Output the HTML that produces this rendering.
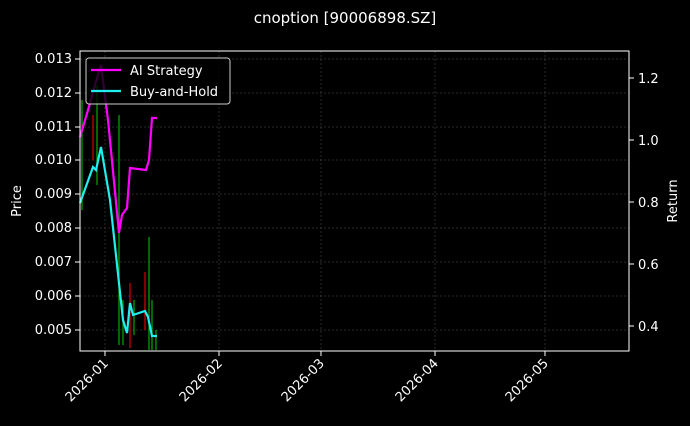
<!DOCTYPE html>
<html><head><style>
body{margin:0;background:#000;}
text{font-family:"DejaVu Sans","Liberation Sans",sans-serif;fill:#fff;}
</style></head><body>
<svg width="690" height="421" xmlns="http://www.w3.org/2000/svg">
<rect width="690" height="421" fill="#000"/>
<text x="345" y="23" font-size="15" text-anchor="middle">cnoption [90006898.SZ]</text>
<g stroke="#555" stroke-width="0.5" stroke-dasharray="2,2">
<line x1="105" y1="51" x2="105" y2="351"/><line x1="219" y1="51" x2="219" y2="351"/><line x1="321" y1="51" x2="321" y2="351"/><line x1="435" y1="51" x2="435" y2="351"/><line x1="545" y1="51" x2="545" y2="351"/>
<line x1="80" y1="59" x2="629" y2="59"/><line x1="80" y1="93" x2="629" y2="93"/><line x1="80" y1="127" x2="629" y2="127"/><line x1="80" y1="160" x2="629" y2="160"/><line x1="80" y1="194" x2="629" y2="194"/><line x1="80" y1="228" x2="629" y2="228"/><line x1="80" y1="262" x2="629" y2="262"/><line x1="80" y1="296" x2="629" y2="296"/><line x1="80" y1="330" x2="629" y2="330"/>
</g>
<g stroke-width="1.2">
<line x1="82" y1="100" x2="82" y2="210" stroke="#0a0"/>
<line x1="93" y1="115" x2="93" y2="160" stroke="#d00"/>
<line x1="97" y1="85" x2="97" y2="185" stroke="#0a0"/>
<line x1="119" y1="115" x2="119" y2="345" stroke="#0a0"/>
<line x1="123" y1="300" x2="123" y2="345" stroke="#0a0"/>
<line x1="130" y1="283" x2="130" y2="348" stroke="#d00"/>
<line x1="134" y1="300" x2="134" y2="335" stroke="#0a0"/>
<line x1="145" y1="272" x2="145" y2="330" stroke="#d00"/>
<line x1="149" y1="237" x2="149" y2="350" stroke="#0a0"/>
<line x1="152" y1="300" x2="152" y2="350" stroke="#0a0"/>
<line x1="156" y1="330" x2="156" y2="350" stroke="#0a0"/>
</g>
<polyline fill="none" stroke="#ff00ff" stroke-width="2.2" points="80,137 88,110 95,85 101,65 108,120 119,233 122,215 127,208 130,168 146,170 149,160 152,118 157,118"/>
<polyline fill="none" stroke="#22eeee" stroke-width="2.2" points="80,203 93,167 96,170 101,147 110,200 123,320 127,333 130,303 133,315 145,311 148,317 152,336 157,336"/>
<rect x="80" y="51" width="549" height="300" fill="none" stroke="#fff" stroke-width="1"/>
<g stroke="#fff" stroke-width="1">
<line x1="75" y1="59" x2="80" y2="59"/><line x1="75" y1="93" x2="80" y2="93"/><line x1="75" y1="127" x2="80" y2="127"/><line x1="75" y1="160" x2="80" y2="160"/><line x1="75" y1="194" x2="80" y2="194"/><line x1="75" y1="228" x2="80" y2="228"/><line x1="75" y1="262" x2="80" y2="262"/><line x1="75" y1="296" x2="80" y2="296"/><line x1="75" y1="330" x2="80" y2="330"/>
<line x1="629" y1="78" x2="634" y2="78"/><line x1="629" y1="140" x2="634" y2="140"/><line x1="629" y1="202" x2="634" y2="202"/><line x1="629" y1="264" x2="634" y2="264"/><line x1="629" y1="326" x2="634" y2="326"/>
<line x1="105" y1="351" x2="105" y2="356"/><line x1="219" y1="351" x2="219" y2="356"/><line x1="321" y1="351" x2="321" y2="356"/><line x1="435" y1="351" x2="435" y2="356"/><line x1="545" y1="351" x2="545" y2="356"/>
</g>
<g font-size="13" text-anchor="end">
<text x="72" y="63">0.013</text><text x="72" y="97">0.012</text><text x="72" y="131">0.011</text><text x="72" y="164">0.010</text><text x="72" y="198">0.009</text><text x="72" y="232">0.008</text><text x="72" y="266">0.007</text><text x="72" y="300">0.006</text><text x="72" y="334">0.005</text>
</g>
<g font-size="13">
<text x="638" y="83">1.2</text><text x="638" y="145">1.0</text><text x="638" y="207">0.8</text><text x="638" y="269">0.6</text><text x="638" y="331">0.4</text>
</g>
<g font-size="13" text-anchor="end">
<text transform="translate(109,364) rotate(-45)">2026-01</text>
<text transform="translate(223,364) rotate(-45)">2026-02</text>
<text transform="translate(325,364) rotate(-45)">2026-03</text>
<text transform="translate(439,364) rotate(-45)">2026-04</text>
<text transform="translate(549,364) rotate(-45)">2026-05</text>
</g>
<text transform="translate(21,201) rotate(-90)" font-size="13" text-anchor="middle">Price</text>
<text transform="translate(677,201) rotate(-90)" font-size="13" text-anchor="middle">Return</text>
<rect x="86" y="58" width="144" height="46" rx="3" fill="#000" fill-opacity="0.8" stroke="#ccc" stroke-width="1"/>
<line x1="91" y1="70" x2="121" y2="70" stroke="#ff00ff" stroke-width="2.2"/>
<line x1="91" y1="91" x2="121" y2="91" stroke="#22eeee" stroke-width="2.2"/>
<text x="130" y="75" font-size="13">AI Strategy</text>
<text x="130" y="96" font-size="13">Buy-and-Hold</text>
</svg>
</body></html>
